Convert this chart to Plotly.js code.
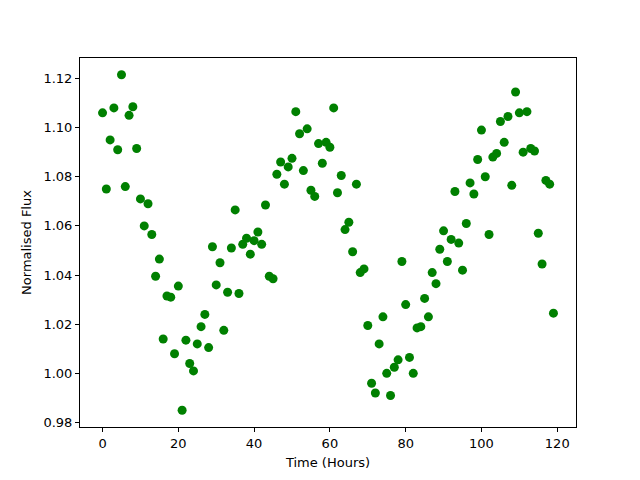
<!DOCTYPE html>
<html>
<head>
<meta charset="utf-8">
<script src="https://cdn.plot.ly/plotly-3.0.1.min.js"></script>
<style>html,body{margin:0;padding:0;background:#fff;}#chart{width:640px;height:480px;}</style>
</head>
<body>
<div id="chart"></div>
<script>
const hours = Array.from({length: 120}, (_, i) => i);
const flux = [
1.106,1.075,1.095,1.108,1.091,1.1215,1.076,1.105,1.1085,1.0915,
1.071,1.060,1.069,1.0565,1.0395,1.0465,1.014,1.0315,1.031,1.008,
1.0355,0.985,1.0135,1.004,1.001,1.012,1.019,1.024,1.0105,1.0515,
1.036,1.045,1.0175,1.033,1.051,1.0665,1.0325,1.0525,1.055,1.0485,
1.054,1.0575,1.0525,1.0685,1.0395,1.0385,1.081,1.086,1.077,1.084,
1.0875,1.1065,1.0975,1.0825,1.0995,1.0745,1.072,1.0935,1.0855,1.094,
1.092,1.108,1.0735,1.0805,1.0585,1.0615,1.0495,1.077,1.041,1.0425,
1.0195,0.996,0.992,1.012,1.023,1.000,0.991,1.0025,1.0055,1.0455,
1.028,1.0065,1.000,1.0185,1.019,1.0305,1.023,1.041,1.0365,1.0505,
1.058,1.0455,1.0545,1.074,1.053,1.042,1.061,1.0775,1.073,1.087,
1.099,1.080,1.0565,1.088,1.0895,1.1025,1.094,1.1045,1.0765,1.1145,
1.106,1.090,1.1065,1.0915,1.0905,1.057,1.0445,1.0785,1.077,1.0245
];
const xTicks = [0,20,40,60,80,100,120];
const yTicks = [0.98,1.00,1.02,1.04,1.06,1.08,1.10,1.12];

const font = {family: 'DejaVu Sans', size: 13, color: '#000'};
Plotly.newPlot('chart', [{
  x: hours, y: flux, type: 'scatter', mode: 'markers',
  marker: {color: '#008000', size: 9}
}], {
  width: 640, height: 480,
  margin: {l: 80, r: 64, t: 58, b: 53},
  paper_bgcolor: '#fff', plot_bgcolor: '#fff',
  showlegend: false,
  font: font,
  xaxis: {
    range: [-5.95, 124.95], tickvals: xTicks, ticktext: xTicks.map(String),
    showgrid: false, zeroline: false, showline: true, mirror: true,
    linecolor: '#000', linewidth: 1, ticks: 'outside', ticklen: 4, tickcolor: '#000',
    title: {text: 'Time (Hours)', font: font, standoff: 8}
  },
  yaxis: {
    range: [0.97818, 1.12832], tickvals: yTicks, ticktext: yTicks.map(v => v.toFixed(2)),
    showgrid: false, zeroline: false, showline: true, mirror: true,
    linecolor: '#000', linewidth: 1, ticks: 'outside', ticklen: 4, tickcolor: '#000',
    title: {text: 'Normalised Flux', font: font, standoff: 8}
  }
}, {displayModeBar: false, staticPlot: true});
</script>
</body>
</html>
